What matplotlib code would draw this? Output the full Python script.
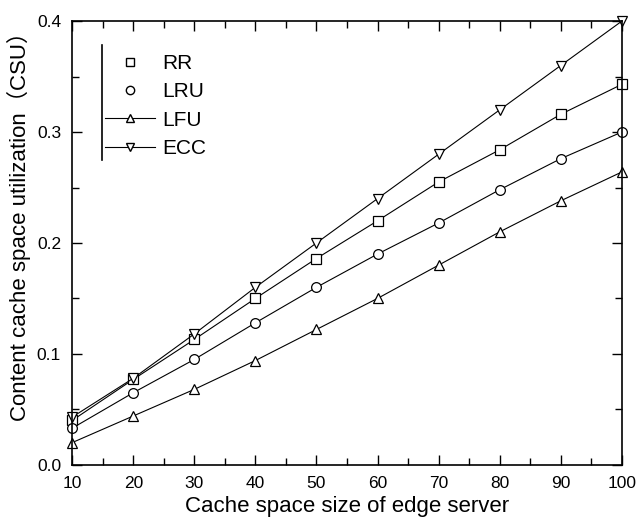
import matplotlib
matplotlib.use("Agg")
import matplotlib.pyplot as plt
from matplotlib.lines import Line2D
from matplotlib.ticker import MultipleLocator

plt.rcParams['font.family'] = ['Liberation Sans', 'Noto Sans CJK SC', 'DejaVu Sans']

# data
cache_size = [10, 20, 30, 40, 50, 60, 70, 80, 90, 100]
rr = [0.040, 0.077, 0.113, 0.150, 0.186, 0.220, 0.255, 0.284, 0.316, 0.343]
lru = [0.033, 0.065, 0.095, 0.128, 0.160, 0.190, 0.218, 0.248, 0.276, 0.300]
lfu = [0.020, 0.044, 0.068, 0.094, 0.122, 0.150, 0.180, 0.210, 0.238, 0.264]
ecc = [0.043, 0.078, 0.118, 0.160, 0.200, 0.240, 0.280, 0.320, 0.360, 0.400]

fig = plt.figure(figsize=(6.39, 5.17), dpi=100)
ax = fig.add_axes([0.113, 0.101, 0.860, 0.858])

style = dict(color='black', lw=0.8, markersize=7, markerfacecolor='white',
             markeredgecolor='black', markeredgewidth=0.9, clip_on=False)
ax.plot(cache_size, rr, marker='s', **style)
ax.plot(cache_size, lru, marker='o', **style)
ax.plot(cache_size, lfu, marker='^', **style)
ax.plot(cache_size, ecc, marker='v', **style)

ax.set_xlim(10, 100)
ax.set_ylim(0, 0.4)
ax.xaxis.set_major_locator(MultipleLocator(10))
ax.xaxis.set_minor_locator(MultipleLocator(5))
ax.yaxis.set_major_locator(MultipleLocator(0.1))
ax.yaxis.set_minor_locator(MultipleLocator(0.05))
ax.tick_params(which='both', direction='in', top=True, right=True, labelsize=12.5)
ax.tick_params(which='major', length=7, width=1)
ax.tick_params(which='minor', length=5, width=1)
ax.tick_params(axis='x', pad=8)
ax.tick_params(axis='y', pad=8)
for s in ax.spines.values():
    s.set_linewidth(1.2)

ax.set_xlabel('Cache space size of edge server', fontsize=16, labelpad=4)
ax.set_ylabel('Content cache space utilization（CSU）', fontsize=16)
ax.yaxis.set_label_coords(-0.075, 0.55)

handles = [
    Line2D([], [], ls='none', marker='s', markersize=6, mfc='white', mec='black'),
    Line2D([], [], ls='none', marker='o', markersize=6, mfc='white', mec='black'),
    Line2D([], [], color='black', lw=0.8, marker='^', markersize=6, mfc='white', mec='black'),
    Line2D([], [], color='black', lw=0.8, marker='v', markersize=6, mfc='white', mec='black'),
]
ax.legend(handles, ['RR', 'LRU', 'LFU', 'ECC'], loc='upper left',
          bbox_to_anchor=(0.06, 0.926), frameon=False, fontsize=15,
          borderpad=0, borderaxespad=0,
          handlelength=2.4, handletextpad=0.35, labelspacing=0.45)
ax.plot([0.0545, 0.0545], [0.687, 0.946], transform=ax.transAxes, color='black', lw=1.2)

fig.savefig('out.png', dpi=100)
